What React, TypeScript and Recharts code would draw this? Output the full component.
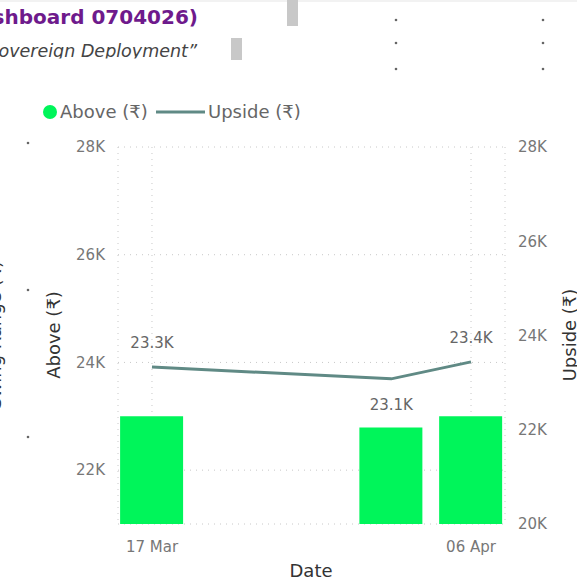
import React from 'react';
import { ComposedChart, Bar, Line, XAxis, YAxis, CartesianGrid, LabelList } from 'recharts';

const dates = ['2025-03-17', '2025-04-01', '2025-04-06'];
const aboveValues = [23000, 22790, 23000];
const upsideValues = [23330, 23080, 23440];
const leftTicks = [22000, 24000, 26000, 28000];
const rightTicks = [20000, 22000, 24000, 26000, 28000];
const xTickDates = ['2025-03-17', '2025-04-06'];
const seriesNames = ['Above (₹)', 'Upside (₹)'];

const DAY = 86400000;
const toTs = (s: string) => {
  const [y, m, d] = s.split('-').map(Number);
  return Date.UTC(y, m - 1, d);
};
const MONTHS = ['Jan', 'Feb', 'Mar', 'Apr', 'May', 'Jun', 'Jul', 'Aug', 'Sep', 'Oct', 'Nov', 'Dec'];
const fmtDate = (t: number) => {
  const d = new Date(t);
  return `${String(d.getUTCDate()).padStart(2, '0')} ${MONTHS[d.getUTCMonth()]}`;
};
const fmtK = (v: number) => `${(v / 1000).toFixed(1)}K`;
const fmtTickK = (v: number) => `${Math.round(v / 1000)}K`;

const data = dates.map((d, i) => ({ t: toTs(d), above: aboveValues[i], upside: upsideValues[i] }));
const xTicks = xTickDates.map(toTs);
const xDomain = [toTs(dates[0]) - 2.13 * DAY, toTs(dates[dates.length - 1]) + 2.13 * DAY];

const FONT = '"DejaVu Sans", "Noto Sans", sans-serif';
const BAR_COLOR = '#00F55A';
const LINE_COLOR = '#608A85';
const TICK = { fill: '#777', fontSize: 15, fontFamily: FONT };

const LineLabel = (props: any) => {
  const { x, y, index, value } = props;
  const prev = upsideValues[index - 1];
  const next = upsideValues[index + 1];
  const isMin = prev !== undefined && next !== undefined && value < prev && value < next;
  const ty = isMin ? y + 31 : y - 19;
  return (
    <text x={x} y={ty} textAnchor="middle" fill="#666" fontSize={15} fontFamily={FONT}>
      {fmtK(value)}
    </text>
  );
};

export default function App() {
  return (
    <div style={{ position: 'fixed', left: 0, top: 0, width: 577, height: 583, overflow: 'hidden', background: '#fff' }}>
      <div style={{ position: 'absolute', left: 0, top: 0 }}>
        <ComposedChart
          width={577}
          height={583}
          data={data}
          margin={{ top: 147, right: 12, bottom: 29, left: 58 }}
        >
          <CartesianGrid yAxisId="left" stroke="#c8c8c8" strokeDasharray="1 5" />
          <XAxis
            dataKey="t"
            type="number"
            scale="time"
            domain={xDomain}
            ticks={xTicks}
            tickFormatter={fmtDate}
            axisLine={false}
            tickLine={false}
            tickSize={0}
            tickMargin={17}
            height={30}
            tick={TICK}
            allowDataOverflow
          />
          <YAxis
            yAxisId="left"
            orientation="left"
            domain={[21000, 28000]}
            ticks={leftTicks}
            tickFormatter={fmtTickK}
            axisLine={false}
            tickLine={false}
            tickSize={0}
            tickMargin={13}
            width={60}
            tick={TICK}
            allowDataOverflow
          />
          <YAxis
            yAxisId="right"
            orientation="right"
            domain={[20000, 28000]}
            ticks={rightTicks}
            tickFormatter={fmtTickK}
            axisLine={false}
            tickLine={false}
            tickSize={0}
            tickMargin={13}
            width={60}
            tick={TICK}
            allowDataOverflow
          />
          <Bar yAxisId="left" dataKey="above" fill={BAR_COLOR} barSize={63} isAnimationActive={false} />
          <Line
            yAxisId="right"
            dataKey="upside"
            stroke={LINE_COLOR}
            strokeWidth={3}
            dot={false}
            activeDot={false}
            isAnimationActive={false}
          >
            <LabelList dataKey="upside" content={<LineLabel />} />
          </Line>
        </ComposedChart>
      </div>
      <svg width={577} height={583} style={{ position: 'absolute', left: 0, top: 0, pointerEvents: 'none' }}>
        <defs>
          <clipPath id="subclip">
            <rect x={0} y={0} width={577} height={58.5} />
          </clipPath>
        </defs>
        <rect x={0} y={0} width={577} height={2} fill="#f2f2f2" />
        <text x={198} y={24} textAnchor="end" fill="#6E1A8C" fontSize={20} fontWeight="bold" fontFamily={FONT}>
          (Dashboard 0704026)
        </text>
        <text x={197} y={57} textAnchor="end" fill="#444" fontSize={17.5} fontStyle="italic" fontFamily={FONT} clipPath="url(#subclip)">
          “Sovereign Deployment”
        </text>
        <rect x={287} y={0} width={11} height={26} fill="#c8c8c8" />
        <rect x={231} y={38} width={11} height={22} fill="#c8c8c8" />
        {[396, 543].map((x) => [20, 43, 69].map((y) => <circle key={`${x}-${y}`} cx={x} cy={y} r={1.3} fill="#666" />))}
        {[143, 290, 437].map((y) => <circle key={`l-${y}`} cx={28} cy={y} r={1.3} fill="#666" />)}
        {/* legend */}
        <circle cx={50} cy={112} r={7} fill={BAR_COLOR} />
        <text x={60} y={118} fill="#666" fontSize={18} fontFamily={FONT}>{seriesNames[0]}</text>
        <line x1={156} y1={112} x2={205} y2={112} stroke={LINE_COLOR} strokeWidth={3} />
        <text x={208} y={118} fill="#666" fontSize={18} fontFamily={FONT}>{seriesNames[1]}</text>
        {/* axis titles */}
        <text transform="translate(60,335) rotate(-90)" textAnchor="middle" fill="#333" fontSize={18} fontFamily={FONT}>{seriesNames[0]}</text>
        <text transform="translate(576,335) rotate(-90)" textAnchor="middle" fill="#333" fontSize={18} fontFamily={FONT}>{seriesNames[1]}</text>
        <text transform="translate(0.5,335) rotate(-90)" textAnchor="middle" fill="#333" fontSize={18} fontFamily={FONT}>Swing Range (₹)</text>
        <text x={311} y={577} textAnchor="middle" fill="#333" fontSize={18} fontFamily={FONT}>Date</text>
      </svg>
    </div>
  );
}
